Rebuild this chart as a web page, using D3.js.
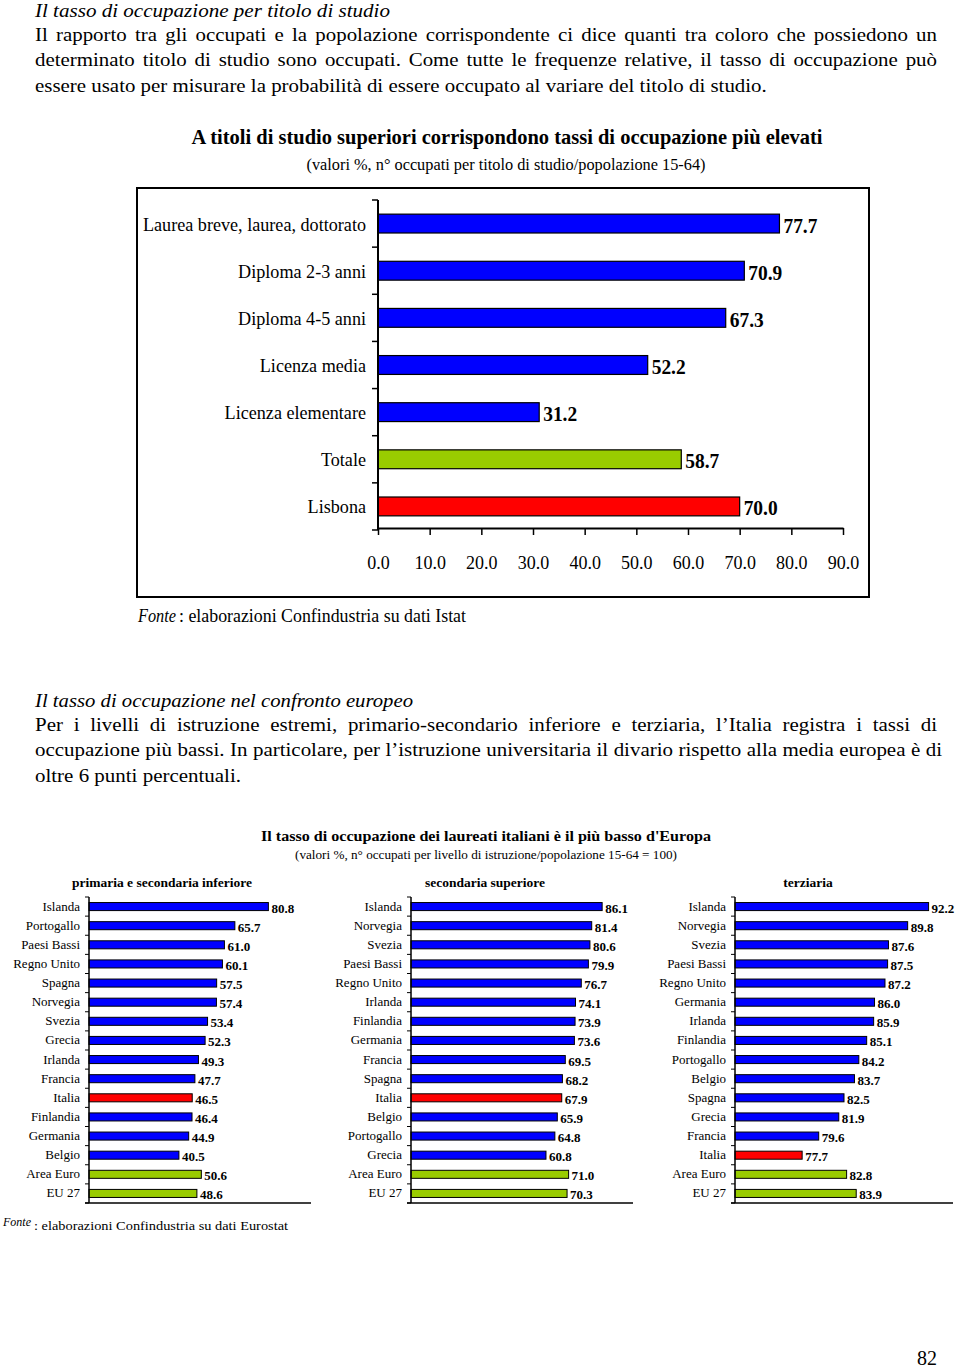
<!DOCTYPE html>
<html>
<head>
<meta charset="utf-8">
<script src="https://cdn.jsdelivr.net/npm/d3@7"></script>
<style>
  html, body { margin: 0; padding: 0; background: #fff; }
  svg { display: block; }
  text { font-family: "Liberation Serif", "Times New Roman", serif; fill: #000; }
</style>
</head>
<body>
<svg id="page" width="960" height="1370"></svg>
<script>
// ---------------- DATA ----------------
const heading1 = "Il tasso di occupazione per titolo di studio";
const para1 = [
  "Il rapporto tra gli occupati e la popolazione corrispondente ci dice quanti tra coloro che possiedono un",
  "determinato titolo di studio sono occupati. Come tutte le frequenze relative, il tasso di occupazione può",
  "essere usato per misurare la probabilità di essere occupato al variare del titolo di studio."
];
const heading2 = "Il tasso di occupazione nel confronto europeo";
const para2 = [
  "Per i livelli di istruzione estremi, primario-secondario inferiore e terziaria, l’Italia registra i tassi di",
  "occupazione più bassi. In particolare, per l’istruzione universitaria il divario rispetto alla media europea è di",
  "oltre 6 punti percentuali."
];

const topTitle = "A titoli di studio superiori corrispondono tassi di occupazione più elevati";
const topSubtitle = "(valori %, n° occupati per titolo di studio/popolazione 15-64)";
const topCategories = ["Laurea breve, laurea, dottorato", "Diploma 2-3 anni", "Diploma 4-5 anni",
  "Licenza media", "Licenza elementare", "Totale", "Lisbona"];
const topValues = [77.7, 70.9, 67.3, 52.2, 31.2, 58.7, 70.0];
const topTicks = [0, 10, 20, 30, 40, 50, 60, 70, 80, 90];
const topSource = ": elaborazioni Confindustria su dati Istat";

const euTitle = "Il tasso di occupazione dei laureati italiani è il più basso d'Europa";
const euSubtitle = "(valori %, n° occupati per livello di istruzione/popolazione 15-64 = 100)";
const panelTitles = ["primaria e secondaria inferiore", "secondaria superiore", "terziaria"];

const p1Countries = ["Islanda", "Portogallo", "Paesi Bassi", "Regno Unito", "Spagna", "Norvegia", "Svezia", "Grecia",
  "Irlanda", "Francia", "Italia", "Finlandia", "Germania", "Belgio", "Area Euro", "EU 27"];
const p1Values = [80.8, 65.7, 61.0, 60.1, 57.5, 57.4, 53.4, 52.3, 49.3, 47.7, 46.5, 46.4, 44.9, 40.5, 50.6, 48.6];

const p2Countries = ["Islanda", "Norvegia", "Svezia", "Paesi Bassi", "Regno Unito", "Irlanda", "Finlandia", "Germania",
  "Francia", "Spagna", "Italia", "Belgio", "Portogallo", "Grecia", "Area Euro", "EU 27"];
const p2Values = [86.1, 81.4, 80.6, 79.9, 76.7, 74.1, 73.9, 73.6, 69.5, 68.2, 67.9, 65.9, 64.8, 60.8, 71.0, 70.3];

const p3Countries = ["Islanda", "Norvegia", "Svezia", "Paesi Bassi", "Regno Unito", "Germania", "Irlanda", "Finlandia",
  "Portogallo", "Belgio", "Spagna", "Grecia", "Francia", "Italia", "Area Euro", "EU 27"];
const p3Values = [92.2, 89.8, 87.6, 87.5, 87.2, 86.0, 85.9, 85.1, 84.2, 83.7, 82.5, 81.9, 79.6, 77.7, 82.8, 83.9];

const euSourceLabel = "Fonte";
const euSource = ": elaborazioni Confindustria su dati Eurostat";
const pageNumber = "82";

// ---------------- STYLE ----------------
const BLUE = "#0000ff", GREEN = "#99cc00", RED = "#ff0000";

const svg = d3.select("#page");
svg.append("rect").attr("width", 960).attr("height", 1370).attr("fill", "#fff");

// ---------------- TEXT BLOCKS ----------------
// justified paragraph: glyphs widened so the last (free) line fits, other lines justified by word spacing
function paragraph(head, lines, y0, headW, widths) {
  svg.append("text").attr("x", 35).attr("y", y0)
    .attr("font-size", 19).attr("font-style", "italic").text(head)
    .attr("textLength", headW).attr("lengthAdjust", "spacingAndGlyphs");
  const g = svg.append("g");
  const texts = lines.map((l, i) => g.append("text").attr("x", 0).attr("y", y0 + 24 + i * 25.5)
    .attr("font-size", 19).text(l));
  const last = lines.length - 1;
  const k = widths[last] / texts[last].node().getComputedTextLength();
  g.attr("transform", `translate(35,0) scale(${k},1)`);
  texts.forEach((t, i) => {
    if (i === last) return;
    const w = t.node().getComputedTextLength();
    const spaces = (lines[i].match(/ /g) || []).length;
    const extra = widths[i] / k - w;
    if (extra > 0 && spaces > 0) t.attr("word-spacing", extra / spaces);
    else t.attr("textLength", widths[i] / k).attr("lengthAdjust", "spacingAndGlyphs");
  });
}
paragraph(heading1, para1, 17, 355, [902, 902, 732]);
paragraph(heading2, para2, 707, 378, [902, 907, 206]);

// ---------------- TOP CHART ----------------
svg.append("rect").attr("x", 137).attr("y", 188).attr("width", 732).attr("height", 409)
  .attr("fill", "none").attr("stroke", "#000").attr("stroke-width", 2);

svg.append("text").attr("x", 507).attr("y", 144).attr("text-anchor", "middle")
  .attr("font-size", 21).attr("font-weight", "bold").text(topTitle)
  .attr("textLength", 631).attr("lengthAdjust", "spacingAndGlyphs");
svg.append("text").attr("x", 506).attr("y", 170).attr("text-anchor", "middle")
  .attr("font-size", 16).text(topSubtitle)
  .attr("textLength", 399).attr("lengthAdjust", "spacingAndGlyphs");

const tx = d3.scaleLinear().domain([0, 90]).range([378, 843]);
const ty = d3.scaleBand().domain(topCategories).range([200, 530]).paddingInner(0.6).paddingOuter(0.3);
const topColor = c => c === "Totale" ? GREEN : (c === "Lisbona" ? RED : BLUE);

const gTop = svg.append("g");
gTop.selectAll("rect.bar").data(topCategories).join("rect")
  .attr("class", "bar")
  .attr("x", tx(0)).attr("y", d => ty(d))
  .attr("width", (d, i) => tx(topValues[i]) - tx(0)).attr("height", ty.bandwidth())
  .attr("fill", d => topColor(d)).attr("stroke", "#000").attr("stroke-width", 1.2);

gTop.selectAll("text.val").data(topCategories).join("text")
  .attr("class", "val")
  .attr("x", (d, i) => tx(topValues[i]) + 4).attr("y", d => ty(d) + ty.bandwidth() / 2 + 9)
  .attr("font-size", 21).attr("font-weight", "bold")
  .attr("textLength", 34).attr("lengthAdjust", "spacingAndGlyphs")
  .text((d, i) => topValues[i].toFixed(1));

gTop.selectAll("text.cat").data(topCategories).join("text")
  .attr("class", "cat")
  .attr("x", 366).attr("y", d => ty(d) + ty.bandwidth() / 2 + 7)
  .attr("text-anchor", "end").attr("font-size", 19)
  .attr("transform", `translate(${366 * 0.045},0) scale(0.955,1)`)
  .text(d => d);

// y axis line with ticks at band boundaries
const yStart = 200, yEnd = 530;
gTop.append("line").attr("x1", tx(0)).attr("x2", tx(0)).attr("y1", yStart).attr("y2", yEnd)
  .attr("stroke", "#000").attr("stroke-width", 2);
d3.range(topCategories.length + 1).forEach(i => {
  const yy = yStart + i * (yEnd - yStart) / topCategories.length;
  gTop.append("line").attr("x1", tx(0) - 6).attr("x2", tx(0)).attr("y1", yy).attr("y2", yy)
    .attr("stroke", "#000").attr("stroke-width", 1.5);
});

const xAxis = d3.axisBottom(tx).tickValues(topTicks).tickFormat(d3.format(".1f"))
  .tickSize(7).tickPadding(21).tickSizeOuter(0);
const gx = svg.append("g").attr("transform", "translate(0,528)").call(xAxis);
gx.select(".domain").attr("stroke", "#000").attr("stroke-width", 2);
gx.selectAll(".tick line").attr("stroke", "#000").attr("stroke-width", 1.5);
gx.selectAll(".tick text").attr("font-family", "Liberation Serif").attr("font-size", 18)
  .attr("fill", "#000");

svg.append("text").attr("x", 138).attr("y", 622).attr("font-size", 19).attr("font-style", "italic")
  .text("Fonte").attr("textLength", 38).attr("lengthAdjust", "spacingAndGlyphs");
svg.append("text").attr("x", 179).attr("y", 622).attr("font-size", 19)
  .text(topSource).attr("textLength", 287).attr("lengthAdjust", "spacingAndGlyphs");

// ---------------- EUROPEAN PANELS ----------------
svg.append("text").attr("x", 486).attr("y", 841).attr("text-anchor", "middle")
  .attr("font-size", 15).attr("font-weight", "bold").text(euTitle)
  .attr("textLength", 450).attr("lengthAdjust", "spacingAndGlyphs");
svg.append("text").attr("x", 486).attr("y", 859).attr("text-anchor", "middle")
  .attr("font-size", 12).text(euSubtitle)
  .attr("textLength", 382).attr("lengthAdjust", "spacingAndGlyphs");

const panels = [
  { countries: p1Countries, values: p1Values, title: panelTitles[0], x0: 89, x1: 311, domain: [0, 100], titleX: 162 },
  { countries: p2Countries, values: p2Values, title: panelTitles[1], x0: 411, x1: 633, domain: [0, 100], titleX: 485 },
  { countries: p3Countries, values: p3Values, title: panelTitles[2], x0: 735, x1: 953, domain: [70, 95], titleX: 808 }
];

panels.forEach(p => {
  const g = svg.append("g");
  const x = d3.scaleLinear().domain(p.domain).range([p.x0, p.x1]);
  const y = d3.scaleBand().domain(p.countries).range([897, 1203]).paddingInner(0.58).paddingOuter(0.29);
  const col = c => c === "Italia" ? RED : ((c === "Area Euro" || c === "EU 27") ? GREEN : BLUE);

  g.append("text").attr("x", p.titleX).attr("y", 887).attr("text-anchor", "middle")
    .attr("font-size", 13.5).attr("font-weight", "bold").text(p.title);

  g.selectAll("rect").data(p.countries).join("rect")
    .attr("x", x(p.domain[0])).attr("y", d => y(d))
    .attr("width", (d, i) => x(p.values[i]) - x(p.domain[0])).attr("height", y.bandwidth())
    .attr("fill", d => col(d)).attr("stroke", "#000").attr("stroke-width", 1);

  g.selectAll("text.val").data(p.countries).join("text")
    .attr("class", "val")
    .attr("x", (d, i) => x(p.values[i]) + 3).attr("y", d => y(d) + y.bandwidth() / 2 + 6)
    .attr("font-size", 13).attr("font-weight", "bold")
    .text((d, i) => p.values[i].toFixed(1));

  g.selectAll("text.cat").data(p.countries).join("text")
    .attr("class", "cat")
    .attr("x", p.x0 - 9).attr("y", d => y(d) + y.bandwidth() / 2 + 4)
    .attr("text-anchor", "end").attr("font-size", 13).text(d => d);

  // axis lines
  g.append("line").attr("x1", p.x0).attr("x2", p.x0).attr("y1", 897).attr("y2", 1203)
    .attr("stroke", "#000").attr("stroke-width", 1.5);
  d3.range(p.countries.length + 1).forEach(i => {
    const yy = 897 + i * (1203 - 897) / p.countries.length;
    g.append("line").attr("x1", p.x0 - 4).attr("x2", p.x0).attr("y1", yy).attr("y2", yy)
      .attr("stroke", "#000").attr("stroke-width", 1);
  });
  g.append("line").attr("x1", p.x0 - 4).attr("x2", p.x1).attr("y1", 1203).attr("y2", 1203)
    .attr("stroke", "#000").attr("stroke-width", 1.5);
});

svg.append("text").attr("x", 3).attr("y", 1226).attr("font-size", 12).attr("font-style", "italic").text(euSourceLabel);
svg.append("text").attr("x", 34).attr("y", 1230).attr("font-size", 13.5)
  .text(euSource).attr("textLength", 254).attr("lengthAdjust", "spacingAndGlyphs");

svg.append("text").attr("x", 937).attr("y", 1365).attr("text-anchor", "end").attr("font-size", 20).text(pageNumber);
</script>
</body>
</html>
